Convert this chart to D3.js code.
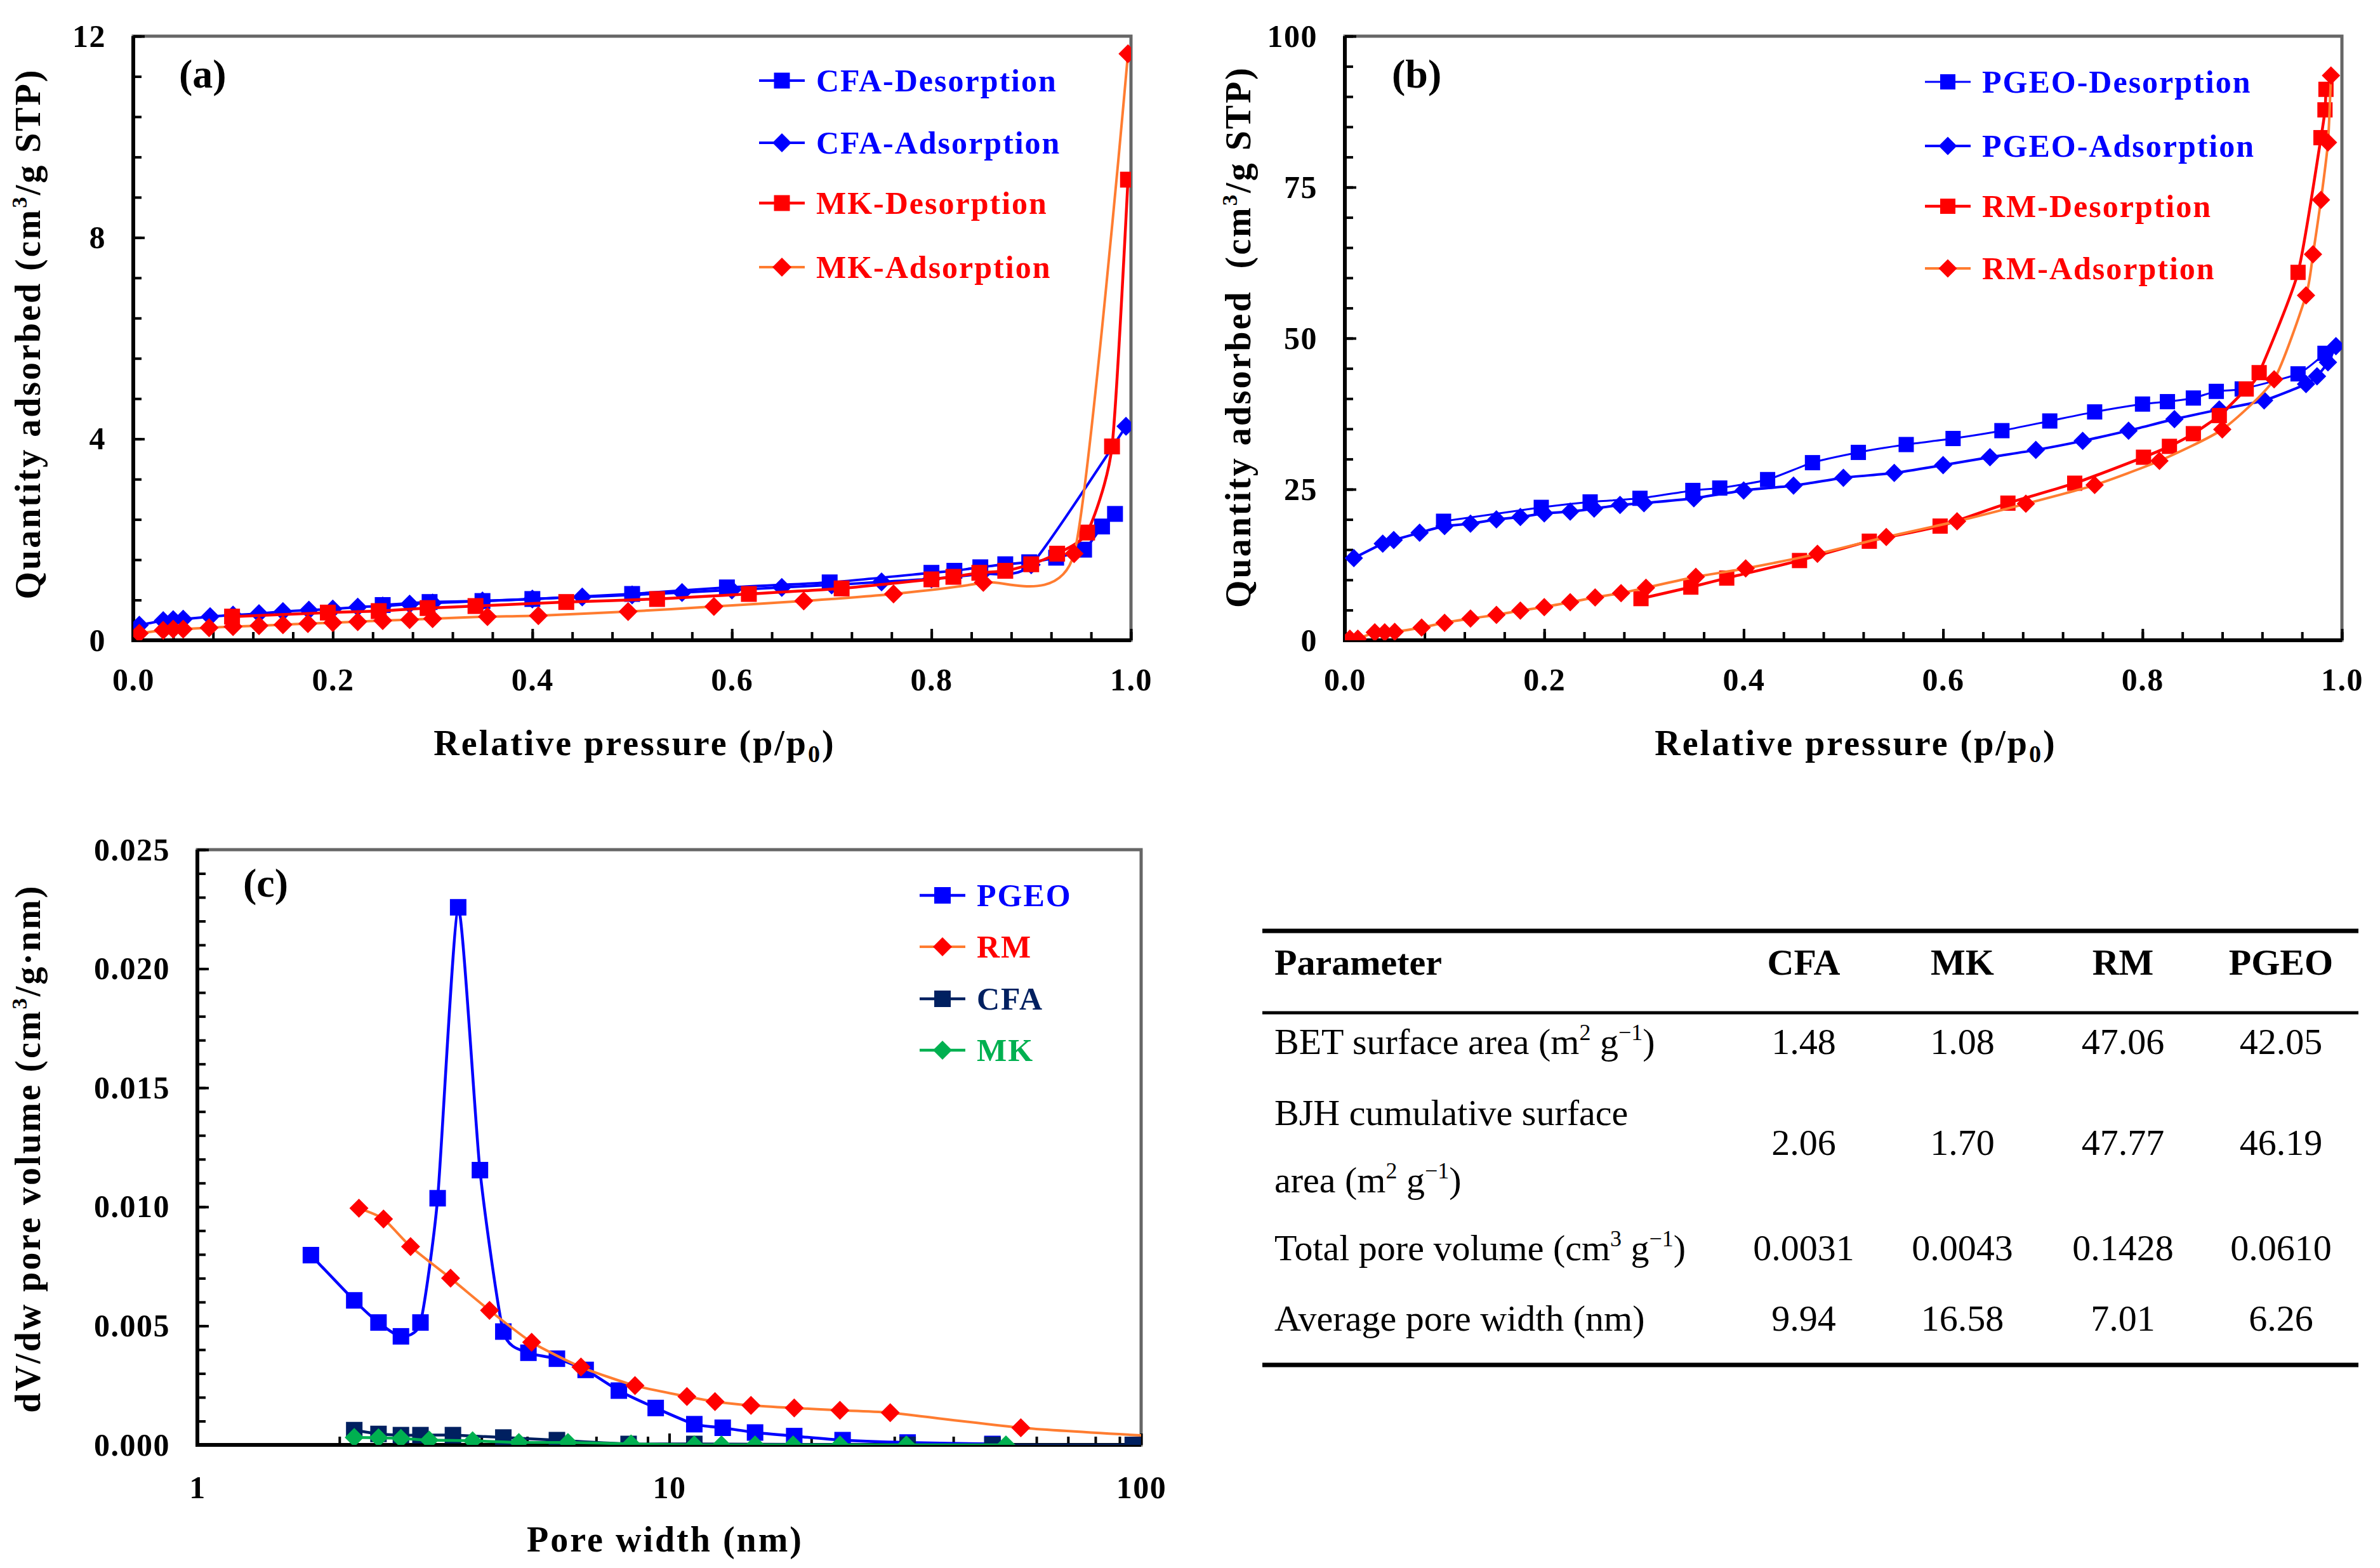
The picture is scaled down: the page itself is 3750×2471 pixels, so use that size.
<!DOCTYPE html>
<html>
<head>
<meta charset="utf-8">
<script src="https://cdn.jsdelivr.net/npm/d3@7"></script>
<style>
  body { margin: 0; background: #fff; }
  text { font-family: "Liberation Serif", "Times New Roman", serif; }
</style>
</head>
<body>
<svg id="fig" width="3750" height="2471"></svg>
<script>
// ---------- data ----------
// (a) CFA / MK isotherms, p/p0 vs quantity adsorbed (cm3/g STP)
const aCfaDesP = [0.984, 0.971, 0.953, 0.925, 0.898, 0.874, 0.849, 0.823, 0.80, 0.698, 0.595, 0.50, 0.40, 0.35, 0.297, 0.25];
const aCfaDesQ = [2.51, 2.26, 1.80, 1.64, 1.55, 1.51, 1.45, 1.38, 1.34, 1.15, 1.05, 0.92, 0.82, 0.78, 0.76, 0.70];
const aCfaAdsP = [0.006, 0.03, 0.04, 0.05, 0.077, 0.10, 0.126, 0.15, 0.176, 0.20, 0.225, 0.25, 0.277, 0.30, 0.35, 0.40, 0.45, 0.50, 0.55, 0.60, 0.65, 0.70, 0.75, 0.80, 0.85, 0.90, 0.995];
const aCfaAdsQ = [0.30, 0.39, 0.41, 0.42, 0.47, 0.50, 0.53, 0.57, 0.60, 0.62, 0.66, 0.68, 0.72, 0.74, 0.78, 0.82, 0.86, 0.90, 0.95, 1.00, 1.05, 1.10, 1.16, 1.22, 1.32, 1.50, 4.25];
const aMkDesP = [0.997, 0.981, 0.956, 0.926, 0.90, 0.874, 0.848, 0.822, 0.80, 0.71, 0.617, 0.525, 0.434, 0.343, 0.295, 0.246, 0.195, 0.099];
const aMkDesQ = [9.15, 3.85, 2.14, 1.72, 1.51, 1.38, 1.34, 1.26, 1.21, 1.03, 0.92, 0.82, 0.76, 0.68, 0.64, 0.58, 0.55, 0.47];
const aMkAdsP = [0.006, 0.03, 0.04, 0.05, 0.076, 0.10, 0.126, 0.15, 0.175, 0.20, 0.225, 0.25, 0.277, 0.30, 0.355, 0.406, 0.496, 0.582, 0.672, 0.762, 0.852, 0.943, 0.997];
const aMkAdsQ = [0.14, 0.20, 0.22, 0.22, 0.25, 0.27, 0.29, 0.31, 0.33, 0.35, 0.37, 0.39, 0.41, 0.43, 0.47, 0.49, 0.57, 0.67, 0.78, 0.92, 1.15, 1.72, 11.65];

// (b) PGEO / RM isotherms
const bPgeoDesP = [0.983, 0.956, 0.90, 0.874, 0.851, 0.825, 0.80, 0.752, 0.707, 0.659, 0.61, 0.563, 0.515, 0.469, 0.424, 0.376, 0.349, 0.296, 0.246, 0.197, 0.099];
const bPgeoDesQ = [47.5, 44.1, 41.6, 41.2, 40.1, 39.5, 39.1, 37.8, 36.3, 34.7, 33.4, 32.4, 31.1, 29.4, 26.6, 25.2, 24.8, 23.5, 22.9, 22.0, 19.7];
const bPgeoAdsP = [0.009, 0.038, 0.049, 0.075, 0.10, 0.126, 0.152, 0.176, 0.20, 0.226, 0.25, 0.276, 0.30, 0.35, 0.40, 0.45, 0.50, 0.551, 0.60, 0.647, 0.693, 0.74, 0.786, 0.832, 0.877, 0.922, 0.964, 0.975, 0.986, 0.994];
const bPgeoAdsQ = [13.6, 16.0, 16.6, 17.8, 18.9, 19.3, 20.0, 20.4, 21.0, 21.3, 21.8, 22.4, 22.7, 23.5, 24.8, 25.6, 26.9, 27.7, 29.0, 30.3, 31.5, 33.0, 34.7, 36.6, 38.2, 39.7, 42.4, 43.7, 46.0, 48.7];
const bRmDesP = [0.984, 0.983, 0.979, 0.956, 0.917, 0.904, 0.877, 0.851, 0.827, 0.801, 0.732, 0.665, 0.597, 0.526, 0.456, 0.383, 0.347, 0.297];
const bRmDesQ = [91.2, 87.8, 83.2, 60.9, 44.3, 41.6, 37.2, 34.2, 32.1, 30.3, 26.0, 22.7, 18.9, 16.4, 13.2, 10.3, 8.8, 6.9];
const bRmAdsP = [0.005, 0.013, 0.03, 0.04, 0.05, 0.077, 0.10, 0.126, 0.152, 0.176, 0.20, 0.226, 0.251, 0.277, 0.302, 0.352, 0.402, 0.474, 0.543, 0.614, 0.683, 0.752, 0.817, 0.88, 0.932, 0.964, 0.971, 0.979, 0.986, 0.989];
const bRmAdsQ = [0.25, 0.25, 1.3, 1.3, 1.4, 2.1, 2.9, 3.6, 4.2, 4.9, 5.5, 6.3, 7.1, 7.8, 8.7, 10.5, 11.9, 14.3, 17.1, 19.7, 22.6, 25.7, 29.7, 34.9, 43.2, 57.1, 63.9, 72.9, 82.4, 93.5];

// (c) pore size distribution, pore width (nm) vs dV/dw
const cPgeoW = [1.74, 2.15, 2.42, 2.70, 2.97, 3.23, 3.57, 3.97, 4.45, 5.03, 5.78, 6.65, 7.82, 9.36, 11.3, 12.98, 15.2, 18.4, 23.3, 32.0, 48.4];
const cPgeoV = [0.00797, 0.00607, 0.00514, 0.00456, 0.00514, 0.01036, 0.02258, 0.01154, 0.00476, 0.00387, 0.00362, 0.00315, 0.00228, 0.00155, 0.00087, 0.00072, 0.00052, 0.00037, 0.0002, 0.0001, 0.00004];
const cRmW = [2.2, 2.48, 2.83, 3.44, 4.16, 5.11, 6.5, 8.46, 10.9, 12.5, 14.9, 18.4, 23.0, 29.4, 55.6, 110];
const cRmV = [0.00994, 0.00949, 0.00833, 0.0070, 0.00565, 0.00431, 0.00327, 0.00249, 0.00203, 0.00182, 0.00166, 0.00155, 0.00145, 0.00135, 0.00072, 0.00035];
const cCfaW = [2.15, 2.42, 2.70, 2.97, 3.48, 4.45, 5.78, 8.2, 11.3, 32.0, 48.4, 96];
const cCfaV = [0.00062, 0.00046, 0.00041, 0.00041, 0.00041, 0.00031, 0.0002, 0.00004, 0.00004, 0, 0, 0];
const cMkW = [2.15, 2.42, 2.70, 3.1, 3.83, 4.8, 6.1, 8.3, 11.3, 12.9, 15.2, 18.3, 23.0, 31.8, 51.7];
const cMkV = [0.00031, 0.0003, 0.00027, 0.0002, 0.00017, 0.0001, 0.0001, 0.00004, 0, 0, 0, 0, 0, 0, 0];

// tick values
const isoXTicks = [0, 0.2, 0.4, 0.6, 0.8, 1.0];
const aYTicks = [0, 4, 8, 12];
const bYTicks = [0, 25, 50, 75, 100];
const cXTicks = [1, 10, 100];
const cYTicks = [0, 0.005, 0.01, 0.015, 0.02, 0.025];

// table
const tableHead = ["Parameter", "CFA", "MK", "RM", "PGEO"];
const tableRows = [
  ["BET surface area (m^{2} g^{−1})"],
  ["BJH cumulative surface", "area (m^{2} g^{−1})"],
  ["Total pore volume (cm^{3} g^{−1})"],
  ["Average pore width (nm)"]
];
const tableVals = [
  ["1.48", "1.08", "47.06", "42.05"],
  ["2.06", "1.70", "47.77", "46.19"],
  ["0.0031", "0.0043", "0.1428", "0.0610"],
  ["9.94", "16.58", "7.01", "6.26"]
];

// ---------- drawing ----------
const BLUE = "#0000FF", RED = "#FF0000", ORANGE = "#FF7C30", NAVY = "#002060", GREEN = "#00B050";
const svg = d3.select("#fig");
svg.append("rect").attr("width", 3750).attr("height", 2471).attr("fill", "#fff");

// text with ^{sup} and _{sub}
function rich(t, str, size) {
  const parts = str.split(/(\^\{[^}]*\}|_\{[^}]*\})/).filter(s => s.length);
  parts.forEach(p => {
    if (p.startsWith("^{")) {
      t.append("tspan").attr("font-size", size * 0.62).attr("baseline-shift", size * 0.38).text(p.slice(2, -1));
    } else if (p.startsWith("_{")) {
      t.append("tspan").attr("font-size", size * 0.68).attr("baseline-shift", -size * 0.2).text(p.slice(2, -1));
    } else {
      t.append("tspan").text(p);
    }
  });
  return t;
}

function squarePath(s) { return `M${-s},${-s}H${s}V${s}H${-s}Z`; }
function diamondPath(s) { return `M0,${-s}L${s},0L0,${s}L${-s},0Z`; }

// smoothed line, close to the spreadsheet "smooth line" look
const smooth = d3.line().curve(d3.curveCardinal.tension(0.4));

function drawPanel(p) {
  const g = svg.append("g");
  const x = p.x, y = p.y;
  const [x0, x1] = x.range();
  const [y0, y1] = y.range();

  svg.append("clipPath").attr("id", p.id + "clip")
    .append("rect").attr("x", x0).attr("y", y1).attr("width", x1 - x0).attr("height", y0 - y1);

  g.append("rect").attr("x", x0).attr("y", y1).attr("width", x1 - x0).attr("height", y0 - y1)
    .attr("fill", "none").attr("stroke", "#666").attr("stroke-width", 5);

  // minor ticks
  g.append("g").attr("transform", `translate(0,${y0})`)
    .call(d3.axisBottom(x).tickValues(p.xMinor).tickSize(-13).tickFormat(""))
    .call(a => a.select(".domain").remove());
  g.append("g").attr("transform", `translate(${x0},0)`)
    .call(d3.axisLeft(y).tickValues(p.yMinor).tickSize(-13).tickFormat(""))
    .call(a => a.select(".domain").remove());
  // major ticks + labels
  g.append("g").attr("class", "xax").attr("transform", `translate(0,${y0})`)
    .call(d3.axisBottom(x).tickValues(p.xTicks).tickSize(-18).tickPadding(p.xPad).tickFormat(p.xFmt))
    .call(a => a.select(".domain").remove());
  g.append("g").attr("class", "yax").attr("transform", `translate(${x0},0)`)
    .call(d3.axisLeft(y).tickValues(p.yTicks).tickSize(-18).tickPadding(43).tickFormat(p.yFmt))
    .call(a => a.select(".domain").remove());
  g.selectAll(".tick line").attr("stroke", "#000").attr("stroke-width", 4);
  g.selectAll(".tick text").attr("font-family", '"Liberation Serif", serif').attr("font-size", 50)
    .attr("font-weight", "bold").attr("fill", "#000").attr("letter-spacing", 1.5);

  // axis lines
  g.append("line").attr("x1", x0).attr("x2", x1).attr("y1", y0).attr("y2", y0).attr("stroke", "#000").attr("stroke-width", 6);
  g.append("line").attr("x1", x0).attr("x2", x0).attr("y1", y0 + 3).attr("y2", y1).attr("stroke", "#000").attr("stroke-width", 6);

  // series
  const plot = g.append("g").attr("clip-path", `url(#${p.id}clip)`);
  p.series.forEach(s => {
    const pts = s.xs.map((v, i) => [x(v), y(s.ys[i])]);
    plot.append("path").attr("d", smooth(pts))
      .attr("fill", "none").attr("stroke", s.line).attr("stroke-width", s.lw || 4.5);
    plot.selectAll(null).data(pts).join("path")
      .attr("transform", d => `translate(${d[0]},${d[1]})`)
      .attr("d", s.shape === "sq" ? squarePath(s.ms) : diamondPath(s.ms))
      .attr("fill", s.mark);
  });

  // legend
  const lg = g.append("g");
  p.series.forEach((s, i) => {
    const ly = p.legend.y[i];
    lg.append("line").attr("x1", p.legend.x).attr("x2", p.legend.x + 72).attr("y1", ly).attr("y2", ly)
      .attr("stroke", s.line).attr("stroke-width", s.lw || 4.5);
    lg.append("path").attr("transform", `translate(${p.legend.x + 36},${ly})`)
      .attr("d", s.shape === "sq" ? squarePath(s.ms) : diamondPath(s.ms)).attr("fill", s.mark);
    lg.append("text").attr("x", p.legend.x + 90).attr("y", ly).attr("dy", "0.33em")
      .attr("font-size", 50).attr("font-weight", "bold").attr("letter-spacing", 2)
      .attr("fill", s.text).text(s.name);
  });

  // panel tag
  g.append("text").attr("x", p.tag[0]).attr("y", p.tag[1]).attr("dy", "0.33em")
    .attr("font-size", 64).attr("font-weight", "bold").text(p.tagText);

  // axis titles
  rich(g.append("text").attr("x", p.xTitle[0]).attr("y", p.xTitle[1]).attr("dy", "0.33em")
    .attr("text-anchor", "middle").attr("font-size", 56).attr("font-weight", "bold").attr("letter-spacing", 3),
    p.xTitleText, 56);
  rich(g.append("text").attr("transform", `translate(${p.yTitle[0]},${p.yTitle[1]}) rotate(-90)`)
    .attr("dy", "0.33em").attr("text-anchor", "middle").attr("font-size", 56).attr("font-weight", "bold")
    .attr("letter-spacing", 3).attr("xml:space", "preserve"),
    p.yTitleText, 56);
}

const isoMinorX = d3.range(0, 1.0001, 0.04);

// panel (a)
drawPanel({
  id: "a",
  x: d3.scaleLinear().domain([0, 1]).range([210, 1782]),
  y: d3.scaleLinear().domain([0, 12]).range([1009, 57]),
  xTicks: isoXTicks, xMinor: isoMinorX, xFmt: d3.format(".1f"), xPad: 43,
  yTicks: aYTicks, yMinor: d3.range(0, 12.001, 0.8), yFmt: d3.format("d"),
  series: [
    { name: "CFA-Desorption", xs: aCfaDesP, ys: aCfaDesQ, line: BLUE, mark: BLUE, text: BLUE, shape: "sq", ms: 12.5, lw: 4 },
    { name: "CFA-Adsorption", xs: aCfaAdsP, ys: aCfaAdsQ, line: BLUE, mark: BLUE, text: BLUE, shape: "di", ms: 15, lw: 4 },
    { name: "MK-Desorption", xs: aMkDesP, ys: aMkDesQ, line: RED, mark: RED, text: RED, shape: "sq", ms: 12.5, lw: 4.5 },
    { name: "MK-Adsorption", xs: aMkAdsP, ys: aMkAdsQ, line: ORANGE, mark: RED, text: RED, shape: "di", ms: 15, lw: 4 }
  ],
  legend: { x: 1196, y: [127, 225, 320, 421] },
  tag: [282, 117], tagText: "(a)",
  xTitle: [1000, 1172], xTitleText: "Relative pressure (p/p_{0})",
  yTitle: [45, 526], yTitleText: "Quantity adsorbed (cm^{3}/g STP)"
});

// panel (b)
drawPanel({
  id: "b",
  x: d3.scaleLinear().domain([0, 1]).range([2119, 3690]),
  y: d3.scaleLinear().domain([0, 100]).range([1009, 57]),
  xTicks: isoXTicks, xMinor: isoMinorX, xFmt: d3.format(".1f"), xPad: 43,
  yTicks: bYTicks, yMinor: d3.range(0, 100.001, 5), yFmt: d3.format("d"),
  series: [
    { name: "PGEO-Desorption", xs: bPgeoDesP, ys: bPgeoDesQ, line: BLUE, mark: BLUE, text: BLUE, shape: "sq", ms: 12, lw: 3 },
    { name: "PGEO-Adsorption", xs: bPgeoAdsP, ys: bPgeoAdsQ, line: BLUE, mark: BLUE, text: BLUE, shape: "di", ms: 14.5, lw: 4 },
    { name: "RM-Desorption", xs: bRmDesP, ys: bRmDesQ, line: RED, mark: RED, text: RED, shape: "sq", ms: 12, lw: 4.5 },
    { name: "RM-Adsorption", xs: bRmAdsP, ys: bRmAdsQ, line: ORANGE, mark: RED, text: RED, shape: "di", ms: 14.5, lw: 4 }
  ],
  legend: { x: 3033, y: [129, 230, 325, 423] },
  tag: [2193, 117], tagText: "(b)",
  xTitle: [2924, 1172], xTitleText: "Relative pressure (p/p_{0})",
  yTitle: [1952, 531], yTitleText: "Quantity adsorbed  (cm^{3}/g STP)"
});

// panel (c)
const cMinorX = [2, 3, 4, 5, 6, 7, 8, 9, 20, 30, 40, 50, 60, 70, 80, 90];
drawPanel({
  id: "c",
  x: d3.scaleLog().domain([1, 100]).range([311, 1798]),
  y: d3.scaleLinear().domain([0, 0.025]).range([2277, 1339]),
  xTicks: cXTicks, xMinor: cMinorX, xFmt: d3.format("d"), xPad: 48,
  yTicks: cYTicks, yMinor: d3.range(0, 0.02501, 0.001), yFmt: d3.format(".3f"),
  series: [
    { name: "PGEO", xs: cPgeoW, ys: cPgeoV, line: BLUE, mark: BLUE, text: BLUE, shape: "sq", ms: 13, lw: 4.5 },
    { name: "RM", xs: cRmW, ys: cRmV, line: ORANGE, mark: RED, text: RED, shape: "di", ms: 15, lw: 4 },
    { name: "CFA", xs: cCfaW, ys: cCfaV, line: NAVY, mark: NAVY, text: NAVY, shape: "sq", ms: 13, lw: 4.5 },
    { name: "MK", xs: cMkW, ys: cMkV, line: GREEN, mark: GREEN, text: GREEN, shape: "di", ms: 15, lw: 4.5 }
  ],
  legend: { x: 1449, y: [1411, 1492, 1574, 1655] },
  tag: [383, 1392], tagText: "(c)",
  xTitle: [1048, 2427], xTitleText: "Pore width (nm)",
  yTitle: [45, 1810], yTitleText: "dV/dw pore volume (cm^{3}/g·nm)"
});

// ---------- table ----------
const tbl = svg.append("g");
const colX = [2008, 2842, 3092, 3345, 3594];
const tblX0 = 1989, tblX1 = 3716;
const TF = 58;
tbl.append("line").attr("x1", tblX0).attr("x2", tblX1).attr("y1", 1467).attr("y2", 1467).attr("stroke", "#000").attr("stroke-width", 7);
tbl.append("line").attr("x1", tblX0).attr("x2", tblX1).attr("y1", 1596).attr("y2", 1596).attr("stroke", "#000").attr("stroke-width", 5);
tbl.append("line").attr("x1", tblX0).attr("x2", tblX1).attr("y1", 2151).attr("y2", 2151).attr("stroke", "#000").attr("stroke-width", 7);

tableHead.forEach((h, i) => {
  tbl.append("text").attr("x", colX[i]).attr("y", 1516).attr("dy", "0.35em")
    .attr("text-anchor", i === 0 ? "start" : "middle")
    .attr("font-size", TF).attr("font-weight", "bold").text(h);
});

const rowLineY = [[1641], [1753, 1859], [1966], [2077]];
const rowValY = [1641, 1800, 1966, 2077];
tableRows.forEach((lines, r) => {
  lines.forEach((ln, k) => {
    rich(tbl.append("text").attr("x", colX[0]).attr("y", rowLineY[r][k]).attr("dy", "0.35em")
      .attr("font-size", TF), ln, TF);
  });
  tableVals[r].forEach((v, c) => {
    tbl.append("text").attr("x", colX[c + 1]).attr("y", rowValY[r]).attr("dy", "0.35em")
      .attr("text-anchor", "middle").attr("font-size", TF).text(v);
  });
});
</script>
</body>
</html>
